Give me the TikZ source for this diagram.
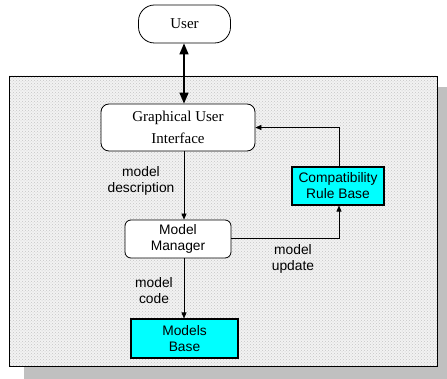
\documentclass[tikz,border=0pt]{standalone}
\usepackage{fontspec}
\setmainfont{Liberation Serif}
\setsansfont{Liberation Sans}
\usetikzlibrary{arrows.meta,patterns}
\definecolor{panelfill}{HTML}{F2F2F2}
\definecolor{shadowgray}{HTML}{C0C0C0}
\definecolor{rulecyan}{HTML}{00FFFF}
\tikzset{
  serifbox/.style={draw, line width=0.8pt, rounded corners=8pt, fill=white,
    align=center, font=\fontsize{15}{22}\selectfont, inner sep=0pt},
  sansbox/.style={draw, line width=0.8pt, rounded corners=6pt, fill=white,
    align=center, font=\sffamily\fontsize{13.8}{16}\selectfont, inner sep=0pt},
  cyanbox/.style={draw, line width=1.1pt, fill=rulecyan,
    align=center, font=\sffamily\fontsize{13.8}{16}\selectfont, inner sep=0pt},
  lbl/.style={align=center, font=\sffamily\fontsize{13.8}{16}\selectfont, inner sep=0pt},
  flow/.style={line width=0.6pt, -{Triangle[length=6pt,width=5pt]}},
}
\begin{document}
\begin{tikzpicture}[x=1pt,y=-1pt]
\useasboundingbox (0,0) rectangle (447,379);

% drop shadow and dotted panel
\fill[shadowgray] (24,87) rectangle (447,379);
\fill[panelfill] (9,76) rectangle (437,366);
\fill[pattern=crosshatch dots, pattern color=gray!45] (9,76) rectangle (437,366);
\draw[line width=0.6pt] (9,76) rectangle (437,366);

% nodes
\node[serifbox, rounded corners=16pt, minimum width=92pt, minimum height=38pt]
  (user) at (184.5,24) {User};
\node[serifbox, minimum width=154pt, minimum height=47pt]
  (gui) at (178,127.5) {Graphical User\\Interface};
\node[sansbox, minimum width=106pt, minimum height=38pt]
  (mm) at (178,239) {Model\\Manager};
\node[cyanbox, minimum width=92pt, minimum height=38pt]
  (crb) at (338,186) {Compatibility\\Rule Base};
\node[cyanbox, minimum width=107pt, minimum height=39pt]
  (mb) at (184.5,338.5) {Models\\Base};

% connectors
\draw[line width=1.4pt, {Triangle[length=11pt,width=9pt]}-{Triangle[length=11pt,width=9pt]}]
  (user.south -| 184,0) -- (gui.north -| 184,0);
\draw[flow] (gui.south -| 184,0) -- (mm.north -| 184,0);
\draw[flow] (mm.south -| 184,0) -- (mb.north -| 184,0);
\coordinate (turnA) at (339,238);
\coordinate (turnB) at (339,127.5);
\draw[flow] (mm.east |- turnA) -- (turnA) -- (crb.south -| turnA);
\draw[flow] (crb.north -| turnB) -- (turnB) -- (gui.east |- turnB);

% labels
\node[lbl] (ldesc) at (141,181) {model\\description};
\node[lbl] (lupd) at (293,259) {model\\update};
\node[lbl] (lcode) at (154,290.5) {model\\code};
\end{tikzpicture}
\end{document}
